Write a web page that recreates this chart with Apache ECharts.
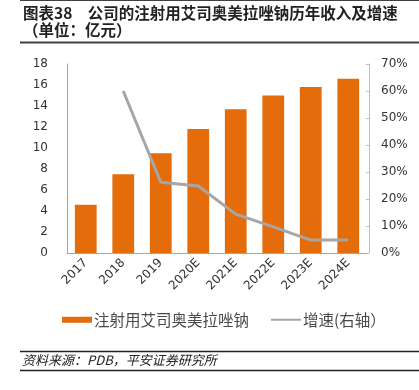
<!DOCTYPE html>
<html><head><meta charset="utf-8">
<script src="https://cdn.jsdelivr.net/npm/echarts@6/dist/echarts.min.js"></script>
<style>html,body{margin:0;padding:0;background:#fff}#c{width:419px;height:390px}</style>
</head><body><div id="c"></div>
<script>
const categories = ['2017','2018','2019','2020E','2021E','2022E','2023E','2024E'];
const revenue = [4.6, 7.5, 9.5, 11.8, 13.7, 15.0, 15.8, 16.6];
const growth = [null, 60, 26.2, 24.8, 14.4, 9.7, 4.8, 4.8];
const leftTicks = {min: 0, max: 18, interval: 2};
const rightTicks = {min: 0, max: 70, interval: 10};
const barName = '注射用艾司奥美拉唑钠';
const lineName = '增速(右轴）';
const titleLine1 = '图表38　公司的注射用艾司奥美拉唑钠历年收入及增速';
const titleLine2 = '（单位：亿元）';
const sourceText = '资料来源：PDB，平安证券研究所';

const chart = echarts.init(document.getElementById('c'), null, {renderer: 'canvas'});
const cjk = '"Noto Sans CJK SC", sans-serif';
const num = '"DejaVu Sans", sans-serif';
chart.setOption({
  animation: false,
  grid: {left: 67, right: 52, top: 64, bottom: 137, containLabel: false},
  legend: {
    left: 57, top: 307, itemGap: 22, itemWidth: 30, itemHeight: 6,
    textStyle: {fontFamily: cjk, fontSize: 15.5, color: '#4a4a4a', padding: [0,0,0,-3]},
    data: [
      {name: barName, icon: 'rect'},
      {name: lineName, icon: 'path://M0,0 L30,0 L30,2 L0,2 Z', itemStyle: {color: '#A6A6A6'}}
    ]
  },
  xAxis: {
    type: 'category', data: categories,
    axisLine: {lineStyle: {color: '#A6A6A6', width: 1}},
    axisTick: {show: false},
    axisLabel: {rotate: 45, margin: 8, fontFamily: num, fontSize: 12, color: '#333'}
  },
  yAxis: [
    {type: 'value', min: leftTicks.min, max: leftTicks.max, interval: leftTicks.interval,
     axisLine: {show: true, lineStyle: {color: '#A6A6A6'}}, axisTick: {show: false},
     splitLine: {show: false},
     axisLabel: {margin: 19, fontFamily: num, fontSize: 12, color: '#333'}},
    {type: 'value', position: 'right', offset: 2, min: rightTicks.min, max: rightTicks.max, interval: rightTicks.interval,
     axisLine: {show: true, lineStyle: {color: '#BFBFBF'}},
     axisTick: {show: true, inside: true, length: 3, lineStyle: {color: '#BFBFBF'}},
     splitLine: {show: false},
     axisLabel: {margin: 12, fontFamily: num, fontSize: 12, color: '#333', formatter: v => v + '%'}}
  ],
  series: [
    {name: barName, type: 'bar', data: revenue, barCategoryGap: '42%',
     itemStyle: {color: '#E46C0A'}},
    {name: lineName, type: 'line', yAxisIndex: 1, data: growth, symbol: 'none',
     connectNulls: false, lineStyle: {color: '#A6A6A6', width: 3}, itemStyle: {color: '#A6A6A6'}}
  ],
  graphic: [
    {type: 'line', shape: {x1: 20, y1: 0.5, x2: 419, y2: 0.5}, style: {stroke: '#404040', lineWidth: 1}},
    {type: 'text', left: 23, top: 5, style: {text: titleLine1, font: 'bold 15.5px ' + cjk, fill: '#222'}},
    {type: 'text', left: 23, top: 22, style: {text: titleLine2, font: 'bold 15.5px ' + cjk, fill: '#222'}},
    {type: 'line', shape: {x1: 20, y1: 42.5, x2: 419, y2: 42.5}, style: {stroke: '#404040', lineWidth: 2}},
    {type: 'line', shape: {x1: 20, y1: 351.5, x2: 419, y2: 351.5}, style: {stroke: '#222', lineWidth: 1.5}},
    {type: 'text', left: 22, top: 354, style: {text: sourceText, font: 'italic 13px ' + cjk, fill: '#222'}},
    {type: 'line', shape: {x1: 20, y1: 370.5, x2: 419, y2: 370.5}, style: {stroke: '#222', lineWidth: 1.5}}
  ]
});
</script></body></html>
